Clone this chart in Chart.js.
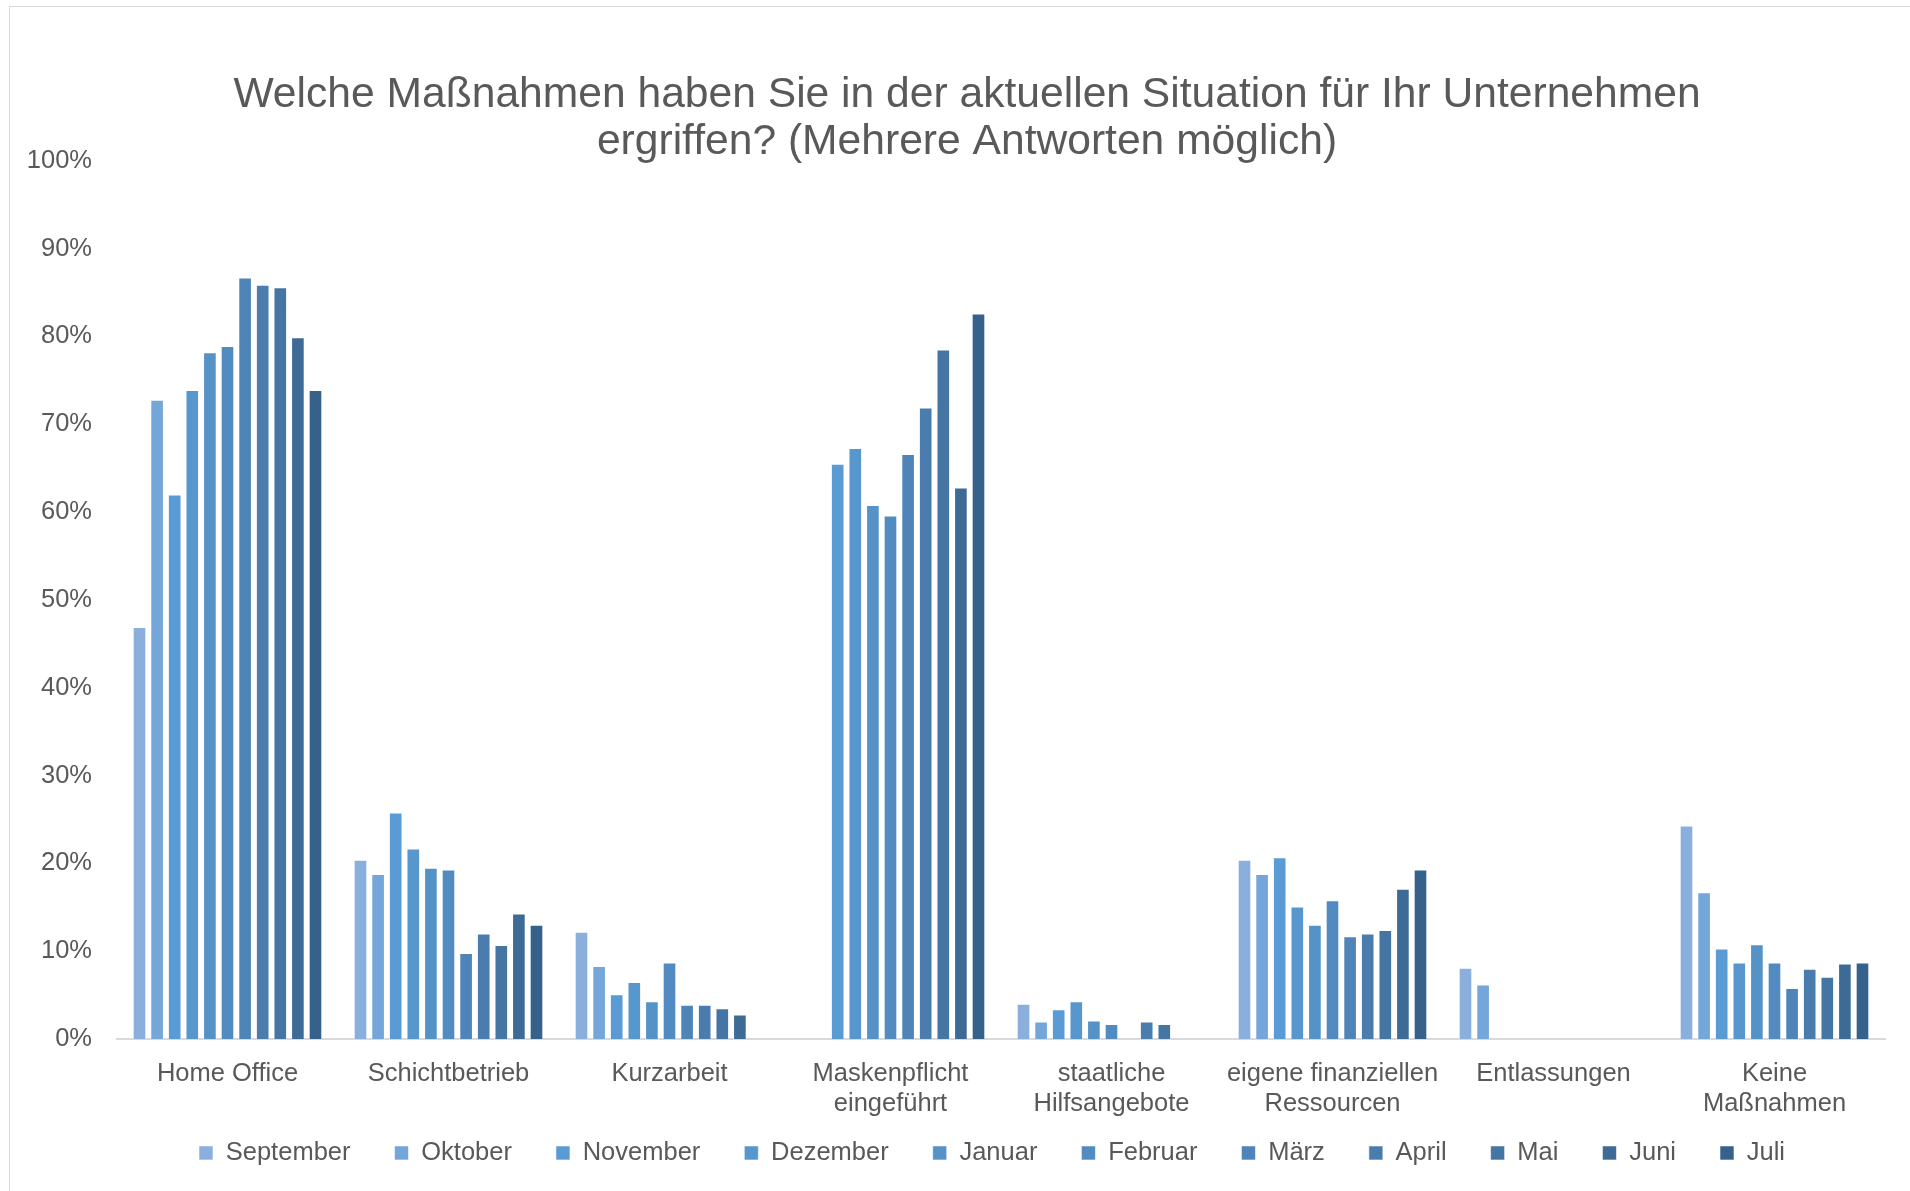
<!DOCTYPE html>
<html>
<head>
<meta charset="utf-8">
<script src="https://cdn.jsdelivr.net/npm/chart.js@4"></script>
<style>
	body { margin: 0; background: #fff; }
	#wrap { position: relative; width: 1910px; height: 1191px; overflow: hidden; }
	#frame { position: absolute; left: 9px; top: 6px; width: 1920px; height: 1200px; border-left: 1px solid #d9d9d9; border-top: 1px solid #d9d9d9; }
	canvas { position: absolute; left: 0; top: 0; }
</style>
</head>
<body>
<div id="wrap">
	<div id="frame"></div>
	<canvas id="measuresChart" width="1910" height="1191"></canvas>
</div>
<script>
const categories = [
	"Home Office",
	"Schichtbetrieb",
	"Kurzarbeit",
	["Maskenpflicht", "eingeführt"],
	["staatliche", "Hilfsangebote"],
	["eigene finanziellen", "Ressourcen"],
	"Entlassungen",
	["Keine", "Maßnahmen"]
]

const months = ["September", "Oktober", "November", "Dezember", "Januar", "Februar", "März", "April", "Mai", "Juni", "Juli"]

// Prozentwerte je Monat, in der Reihenfolge der Kategorien
const september = [46.9, 20.4, 12.2, null, 4.0, 20.4, 8.1, 24.3]
const oktober = [72.8, 18.8, 8.3, null, 2.0, 18.8, 6.2, 16.7]
const november = [62.0, 25.8, 5.1, 65.5, 3.4, 20.7, null, 10.3]
const dezember = [73.9, 21.7, 6.5, 67.3, 4.3, 15.1, null, 8.7]
const januar = [78.2, 19.5, 4.3, 60.8, 2.1, 13.0, null, 10.8]
const februar = [78.9, 19.3, 8.7, 59.6, 1.7, 15.8, null, 8.7]
const maerz = [86.7, 9.8, 3.9, 66.6, null, 11.7, null, 5.8]
const april = [85.9, 12.0, 3.9, 71.9, 2.0, 12.0, null, 8.0]
const mai = [85.6, 10.7, 3.5, 78.5, 1.7, 12.4, null, 7.1]
const juni = [79.9, 14.3, 2.8, 62.8, null, 17.1, null, 8.6]
const juli = [73.9, 13.0, null, 82.6, null, 19.3, null, 8.7]

const series = [september, oktober, november, dezember, januar, februar, maerz, april, mai, juni, juli]

const colors = ["#8aafdc", "#74a6d9", "#5b9bd5", "#5797cd", "#5592c6", "#528bbf", "#4e84b7", "#4a7cad", "#4575a2", "#3e6b96", "#36618a"]

const textColor = "#595959"
const fontFamily = "'Liberation Sans', Arial, sans-serif"
const legendPad = 44

// petit ajustement des blocs titre / légende après le calcul du layout
const nudge = {
	id: "nudge",
	afterLayout(chart) {
		chart.titleBlock.left += 12
		chart.titleBlock.right += 12
		chart.legend.top -= 25.2
		chart.legend.bottom -= 25.2
		chart.legend.left -= 9
		chart.legend.right -= 9
	}
}

const measuresChart = new Chart(
	document.getElementById("measuresChart"),
	{
		type: "bar",
		data: {
			labels: categories,
			datasets: months.map((month, i) => ({
				label: month,
				data: series[i],
				backgroundColor: colors[i],
				borderColor: "rgba(255,255,255,0.55)",
				borderWidth: 1,
				categoryPercentage: 0.876,
				barPercentage: 0.775
			}))
		},
		options: {
			responsive: false,
			animation: false,
			layout: {
				padding: { left: 25, right: 25, top: 0, bottom: -9.9 }
			},
			scales: {
				x: {
					grid: { display: false, drawTicks: false },
					border: { display: true, color: "#d9d9d9", width: 2 },
					ticks: {
						color: textColor,
						font: { family: fontFamily, size: 25.5, lineHeight: 30 / 25.5 },
						padding: 20.4,
						autoSkip: false,
						maxRotation: 0
					},
					afterFit: scale => { scale.height = 82.4 }
				},
				y: {
					min: 0,
					max: 100,
					grid: { display: false, drawTicks: false },
					border: { display: false },
					ticks: {
						stepSize: 10,
						color: textColor,
						font: { family: fontFamily, size: 25.5 },
						padding: 25,
						callback: value => value + "%"
					},
					afterFit: scale => { scale.width = 92 }
				}
			},
			plugins: {
				title: {
					display: true,
					text: ["Welche Maßnahmen haben Sie in der aktuellen Situation für Ihr Unternehmen", "ergriffen? (Mehrere Antworten möglich)"],
					color: textColor,
					font: { family: fontFamily, size: 42.6, weight: "normal", lineHeight: 47.2 / 42.6 },
					padding: { top: 71.5, bottom: -5.1 }
				},
				legend: {
					position: "bottom",
					fullSize: false,
					labels: {
						boxWidth: 14,
						boxHeight: 14,
						padding: legendPad,
						color: textColor,
						font: { family: fontFamily, size: 25.5 }
					}
				},
				tooltip: { enabled: false }
			}
		},
		plugins: [nudge]
	}
)
</script>
</body>
</html>
